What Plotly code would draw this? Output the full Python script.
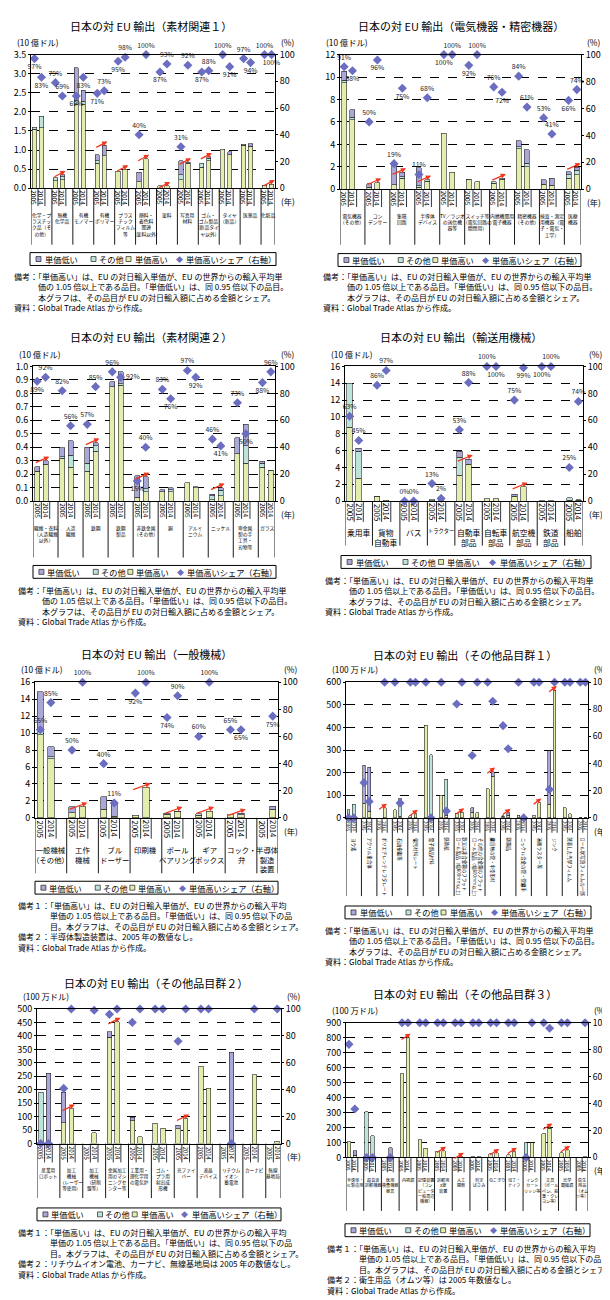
import plotly.graph_objects as go

W, H = 610, 1300
FONT = 'Noto Sans CJK JP, Noto Sans, sans-serif'
C_LOW = '#aaa7d9'
C_OTH = '#bde4da'
C_HIGH = '#e2edae'
C_DIA = '#6b6ec0'
C_ARROW = '#f2361c'

# ---------------- DATA ----------------
# Panel 1 素材関連1 (10億ドル)
p1_cats = ['化学・プ<br>ラスチッ<br>ク品（そ<br>の他）', '無機<br>化学品', '有機<br>モノマー', '有機<br>ポリマー', 'プラス<br>チック<br>フィルム<br>等',
           '顔料・<br>着色料<br>関連<br>(塗料以外)', '塗料', '写真用<br>材料', 'ゴム・<br>ゴム製品<br>(新品タイ<br>ヤ以外)', 'タイヤ<br>（新品）', '医薬品', '化粧品']
p1_high_2005 = [1.55, 0.20, 2.20, 0.65, 0.45, 0.17, 0.06, 0.22, 0.55, 1.02, 1.13, 0.08]
p1_other_2005 = [0.05, 0.08, 0.10, 0.07, 0, 0, 0, 0.13, 0.10, 0, 0.02, 0]
p1_low_2005 = [0, 0, 0.85, 0.16, 0, 0.25, 0, 0.37, 0, 0, 0, 0]
p1_high_2014 = [1.58, 0.22, 2.20, 0.85, 0.50, 0.77, 0.06, 0.65, 0.72, 0.88, 1.10, 0.11]
p1_other_2014 = [0.30, 0.08, 0.08, 0, 0, 0, 0, 0.03, 0.06, 0, 0, 0]
p1_low_2014 = [0, 0.05, 0.29, 0.27, 0, 0, 0, 0, 0.04, 0.07, 0.07, 0]
p1_share_2005 = [97, 79, 69, 71, 95, 40, 87, 31, 87, 100, 97, 100]
p1_share_2014 = [83, 69, 83, 73, 98, 100, 93, 92, 88, 91, 94, 100]
p1_arrow = [0, 1, 0, 1, 1, 1, 1, 1, 1, 0, 0, 1]

# Panel 2 電気機器・精密機器 (10億ドル)
p2_cats = ['電気機器<br>（その他）', 'コン<br>デンサー', '集積<br>回路', '半導体<br>デバイス', 'TV／ラジオ<br>の送信機<br>器等',
           'スイッチ等<br>（電気回路の<br>開閉用）', '内燃機関用<br>電子機器', '精密機器<br>（その他）', '検査・測定<br>用機器（電<br>子・電気・<br>工学）', '医療<br>機器']
p2_high_2005 = [9.5, 0.2, 0.4, 0.2, 5.0, 0.85, 0.55, 3.6, 0.45, 1.0]
p2_other_2005 = [0.2, 0, 0, 0.1, 0, 0.05, 0.1, 0.2, 0, 0.3]
p2_low_2005 = [0.8, 0.3, 1.8, 1.6, 0, 0, 0, 0.5, 0.4, 0.25]
p2_high_2014 = [6.2, 0.6, 1.0, 0.7, 1.5, 0.65, 0.9, 2.0, 0.35, 1.3]
p2_other_2014 = [0.2, 0, 0.1, 0.15, 0, 0, 0.1, 0.3, 0, 0.4]
p2_low_2014 = [0.7, 0, 0.4, 0, 0, 0, 0, 1.2, 0.65, 0.25]
p2_share_2005 = [91, 50, 19, 11, 100, 92, 76, 84, 53, 66]
p2_share_2014 = [88, 96, 75, 68, 100, 100, 72, 61, 41, 74]
p2_arrow = [0, 1, 1, 1, 0, 0, 1, 0, 0, 1]

# Panel 3 素材関連2 (10億ドル)
p3_cats = ['繊維・衣料<br>（人造繊維<br>以外）', '人造<br>繊維', '鉄鋼', '鉄鋼<br>製品', '非鉄金属<br>（その他）', '銅', 'アルミ<br>ニウム', 'ニッケル',
           '卑金属<br>製の手<br>工具・<br>刃物等', 'ガラス']
p3_high_2005 = [0.22, 0.32, 0.22, 0.85, 0.03, 0.07, 0.135, 0.01, 0.35, 0.25]
p3_other_2005 = [0, 0.01, 0.06, 0, 0, 0, 0, 0.03, 0, 0.03]
p3_low_2005 = [0.035, 0.065, 0.12, 0.035, 0.16, 0.015, 0, 0.01, 0.12, 0.015]
p3_high_2014 = [0.275, 0.25, 0.37, 0.86, 0.07, 0.07, 0.10, 0.04, 0.28, 0.225]
p3_other_2014 = [0, 0.09, 0.04, 0.01, 0.02, 0.015, 0.005, 0.04, 0.13, 0.005]
p3_low_2014 = [0.025, 0.11, 0.025, 0.09, 0.09, 0.015, 0, 0.02, 0.16, 0]
p3_share_2005 = [89, 82, 57, 96, 15, 83, 97, 46, 73, 88]
p3_share_2014 = [92, 56, 85, 92, 40, 76, 92, 41, 50, 96]
p3_arrow = [1, 0, 1, 0, 1, 0, 0, 1, 0, 0]

# Panel 4 輸送用機械 (10億ドル)
p4_cats = ['乗用車', '貨物<br>自動車', 'バス', 'トラクター', '自動車<br>部品', '自転車<br>部品', '航空機<br>部品', '鉄道<br>部品', '船舶']
p4_high_2005 = [8.8, 0.52, 0, 0.02, 3.1, 0.3, 0.55, 0.05, 0.1]
p4_other_2005 = [5.2, 0.08, 0, 0.13, 2.1, 0, 0, 0, 0.3]
p4_low_2005 = [0, 0, 0, 0, 0.7, 0, 0.25, 0, 0]
p4_high_2014 = [2.7, 0.08, 0, 0, 4.4, 0.3, 1.7, 0.05, 0.11]
p4_other_2014 = [3.2, 0, 0, 0.05, 0, 0, 0, 0, 0.04]
p4_low_2014 = [0.4, 0, 0, 0, 0.6, 0, 0, 0, 0]
p4_share_2005 = [63, 86, 0, 13, 53, 100, 75, 100, 25]
p4_share_2014 = [45, 97, 0, 2, 88, 100, 99, 100, 74]
p4_arrow = [0, 0, 0, 0, 1, 0, 1, 0, 0]

# Panel 5 一般機械 (10億ドル)
p5_cats = ['一般機械<br>（その他）', '工作<br>機械', 'ブル<br>ドーザー', '印刷機', 'ボール<br>ベアリング', 'ギア<br>ボックス', 'コック・<br>弁', '半導体<br>製造<br>装置']
p5_high_2005 = [9.8, 0.6, 1.0, 0.3, 0.45, 0.3, 0.4, None]
p5_other_2005 = [0.7, 0, 0, 0, 0.1, 0.2, 0, None]
p5_low_2005 = [4.4, 0.7, 1.5, 0, 0, 0, 0, None]
p5_high_2014 = [7.0, 1.3, 0.2, 3.6, 0.7, 0.8, 0.35, 1.0]
p5_other_2014 = [0.2, 0, 0, 0, 0.1, 0, 0, 0]
p5_low_2014 = [1.2, 0, 1.6, 0, 0, 0, 0.2, 0.4]
p5_share_2005 = [65, 50, 40, 92, 74, 60, 65, None]
p5_share_2014 = [85, 100, 11, 100, 90, 100, 65, 75]
p5_arrow = [0, 1, 0, 1, 1, 1, 1, 0]

# Panel 6 その他品目群1 (100万ドル)
p6_cats = ['ヨウ素', 'アクリル重合体', 'ポリエチレンテレフタレート', '石油樹脂等', '偏光材料シート', '電子部品材料', '感熱紙',
           '鉄又は非合金鋼のフラット<br>ロール製品（幅600mm以上）', 'その他の合金鋼のフラット<br>ロール製品（幅600mm以上）',
           '継目無の管・中空形材', '鋳鋼品', 'ニッケル合金の管・管継手', '溶接ラスター等', 'ジンク', '蒸着した光学フィルム', 'ロール状写真フィルムの一部']
p6_high_2005 = [0, 65, 0, 35, 10, 410, 100, 20, 25, 128, 7, 12, 12, 60, 45, 1]
p6_other_2005 = [35, 0, 0, 0, 0, 0, 0, 0, 0, 0, 3, 0, 0, 0, 0, 0]
p6_low_2005 = [0, 168, 0, 0, 0, 0, 0, 0, 20, 0, 0, 0, 0, 238, 0, 0]
p6_high_2014 = [0, 30, 45, 8, 18, 0, 12, 25, 22, 185, 11, 0, 68, 565, 18, 1]
p6_other_2014 = [60, 0, 0, 80, 0, 280, 160, 0, 0, 0, 0, 0, 0, 0, 0, 0]
p6_low_2014 = [0, 195, 0, 0, 0, 0, 0, 0, 0, 20, 11, 0, 0, 0, 0, 0]
p6_share_2005 = [0, 26, None, 100, 100, 100, 100, 84, 46, 100, 68, 100, 100, 21, 100, 100]
p6_share_2014 = [0, 12, 100, 11, 100, 0, 5, 100, 100, 86, 51, 0, 100, 100, 100, 100]
p6_arrow = [0, 0, 1, 0, 1, 0, 0, 1, 0, 1, 1, 0, 1, 1, 0, 0]

# Panel 7 その他品目群2 (100万ドル)
p7_cats = ['産業用<br>ロボット', '加工<br>機械<br>（レーザー<br>等使用）', '加工<br>機械<br>（研削<br>盤等）', '金属加工<br>用のマシ<br>ニングセ<br>ンター等',
           '工業用・<br>理化学用<br>の電気炉', 'ゴム・<br>プラ用<br>射出成<br>形機', '光ファイ<br>バー', '液晶<br>デバイス', 'リチウム<br>イオン<br>蓄電池', 'カーナビ', '無線<br>基地局']
p7_high_2005 = [0, 78, None, 395, 85, 75, 55, 288, None, None, None]
p7_other_2005 = [190, 0, None, 0, 0, 0, 0, 0, None, None, None]
p7_low_2005 = [0, 112, None, 20, 13, 0, 13, 0, None, None, None]
p7_high_2014 = [0, 130, 40, 452, 25, 57, 93, 205, 0, 255, 8]
p7_other_2014 = [0, 0, 0, 0, 0, 0, 0, 0, 0, 0, 0]
p7_low_2014 = [262, 0, 0, 0, 0, 0, 0, 0, 340, 0, 0]
p7_share_2005 = [0, 41, None, 96, 90, 100, 76, 100, None, None, None]
p7_share_2014 = [0, 100, 99, 100, 100, 100, 100, 100, 0, 100, 100]
p7_arrow = [0, 1, 0, 1, 0, 0, 1, 0, 0, 0, 0]

# Panel 8 その他品目群3 (100万ドル)
p8_cats = ['半導体・<br>IC製造用', '超音波<br>診断機器', '医用<br>検査機器<br>器具', '内視鏡', '記憶装置<br>（コン<br>ピュータ<br>一般周辺<br>機器）', '診断用<br>X線<br>装置',
           '人工<br>関節', '剪定<br>ばさみ', 'のこぎり', '包丁・<br>ナイフ', 'インク<br>カート<br>リッジ等', '文具<br>（ボール<br>ペン、鉛<br>筆・クレ<br>ヨン等）', '光学<br>顕微鏡', '衛生<br>用品<br>（オム<br>ツ等）']
p8_high_2005 = [105, 0, None, 560, 120, 40, 1, 5, 25, 18, 0, 160, 30, None]
p8_other_2005 = [0, 305, None, 0, 0, 0, 0, 0, 0, 0, 100, 0, 0, None]
p8_low_2005 = [0, 0, None, 0, 0, 0, 0, 0, 0, 0, 0, 0, 0, None]
p8_high_2014 = [16, 0, 0, 800, 60, 45, 5, 5, 30, 38, 100, 195, 50, 5]
p8_other_2014 = [0, 145, 0, 0, 0, 0, 0, 0, 0, 0, 0, 0, 0, 0]
p8_low_2014 = [29, 0, 65, 0, 0, 0, 0, 0, 0, 0, 0, 5, 0, 0]
p8_share_2005 = [84, 0, None, 100, 100, 100, 100, 100, 100, 100, 0, 100, 100, None]
p8_share_2014 = [36, 0, 0, 100, 100, 100, 100, 100, 100, 100, 100, 96, 100, 100]
p8_arrow = [0, 0, 0, 1, 0, 1, 1, 0, 1, 1, 0, 1, 1, 0]

years = ['2005', '2014']
legend_names = ['単価低い', 'その他', '単価高い', '単価高いシェア（右軸）']

DATA = []
for pre in ['p1', 'p2', 'p3', 'p4', 'p5', 'p6', 'p7', 'p8']:
    g = globals()
    DATA.append(dict(cats=g[pre + '_cats'],
                     h05=g[pre + '_high_2005'], o05=g[pre + '_other_2005'], l05=g[pre + '_low_2005'],
                     h14=g[pre + '_high_2014'], o14=g[pre + '_other_2014'], l14=g[pre + '_low_2014'],
                     s05=g[pre + '_share_2005'], s14=g[pre + '_share_2014'], arrow=g[pre + '_arrow']))

NOTE_STD = ('備考：「単価高い」は、EU の対日輸入単価が、EU の世界からの輸入平均単<br>'
            '　　　価の 1.05 倍以上である品目。「単価低い」は、同 0.95 倍以下の品目。<br>'
            '　　　本グラフは、その品目が EU の対日輸入額に占める金額とシェア。<br>'
            '資料：Global Trade Atlas から作成。')
NOTE_HEAD = ('備考１：「単価高い」は、EU の対日輸入単価が、EU の世界からの輸入平均<br>'
             '　　　　単価の 1.05 倍以上である品目。「単価低い」は、同 0.95 倍以下の品<br>'
             '　　　　目。本グラフは、その品目が EU の対日輸入額に占める金額とシェア。<br>')
NOTE5 = NOTE_HEAD + '備考２：半導体製造装置は、2005 年の数値なし。<br>資料：Global Trade Atlas から作成。'
NOTE7 = NOTE_HEAD + '備考２：リチウムイオン電池、カーナビ、無線基地局は 2005 年の数値なし。<br>資料：Global Trade Atlas から作成。'
NOTE8 = NOTE_HEAD + '備考２：衛生用品（オムツ等）は 2005 年数値なし。<br>資料：Global Trade Atlas から作成。'

U1 = '(10 億ドル)'
U2 = '(100 万ドル)'
# ---------------- GEOMETRY / STYLE ----------------
# lp: label position per point (u=above, d=below, r=right)
GEOM = [
    dict(title='日本の対 EU 輸出（素材関連１）', tx=143, ty=11, L=23, R=267, T=40, B=175, LB=232, ymax=3.5, dtick=0.5, fmt='.1f',
         unit=U1, leg=(22, 240, 246), note=(4, 257), ntext=NOTE_STD, cf=4.8, yf=6.5, yz=18, rot=False, bw=0.62, rf=9,
         lp='dd uu dd du du uu du uu du ud ud ud', cfo={}),
    dict(title='日本の対 EU 輸出（電気機器・精密機器）', tx=453, ty=11, L=332, R=573, T=40, B=176, LB=232, ymax=12, dtick=2, fmt='',
         unit=U1, leg=(330, 241, 243), note=(313, 257), ntext=NOTE_STD, cf=4.8, yf=6.5, yz=18, rot=False, bw=0.6, rf=9,
         lp='ud ud ud uu du du ud uu uu du', cfo={}),
    dict(title='日本の対 EU 輸出（素材関連２）', tx=143, ty=325, L=25, R=267, T=355, B=491, LB=548, ymax=1.0, dtick=0.1, fmt='.1f',
         unit=U1, leg=(25, 556, 243), note=(8, 574), ntext=NOTE_STD, cf=4.8, yf=6.5, yz=18, rot=False, bw=0.6, rf=9,
         lp='du uu uu ur du ud ud ud ud du', cfo={}),
    dict(title='日本の対 EU 輸出（輸送用機械）', tx=453, ty=325, L=337, R=575, T=355, B=491, LB=536, ymax=16, dtick=2, fmt='',
         unit=U1, leg=(333, 546, 250), note=(315, 564), ntext=NOTE_STD, cf=7.8, yf=7.8, yz=21, rot=False, bw=0.6, rf=9,
         lp='uu uu uu uu uu ud ud du uu', cfo={3: 5.3}),
    dict(title='日本の対 EU 輸出（一般機械）', tx=148, ty=645, L=27, R=270, T=674, B=811, LB=867, ymax=16, dtick=2, fmt='',
         unit=U1, leg=(27, 875, 243), note=(8, 892), ntext=NOTE5, cf=7.4, yf=7.8, yz=21, rot=False, bw=0.6, rf=9,
         lp='uu uu uu du du uu ud ud', cfo={}),
    dict(title='日本の対 EU 輸出（その他品目群１）', tx=457, ty=646, L=338, R=580, T=674, B=811, LB=890, ymax=600, dtick=100, fmt='',
         unit=U2, leg=(337, 900, 246), note=(315, 917), ntext=NOTE_STD, cf=4.5, yf=4.4, yz=15, rot=True, bw=0.55, rf=8.5,
         lp=None, cfo={}),
    dict(title='日本の対 EU 輸出（その他品目群２）', tx=148, ty=978, L=29, R=273, T=1004, B=1140, LB=1195, ymax=500, dtick=50, fmt='',
         unit=U2, leg=(29, 1205, 244), note=(8, 1222), ntext=NOTE7, cf=4.6, yf=5.8, yz=19, rot=False, bw=0.6, rf=9,
         lp=None, cfo={}),
    dict(title='日本の対 EU 輸出（その他品目群３）', tx=457, ty=989, L=338, R=580, T=1018, B=1154, LB=1208, ymax=900, dtick=100, fmt='',
         unit=U2, leg=(337, 1221, 245), note=(317, 1238), ntext=NOTE8, cf=4.1, yf=5.0, yz=15, rot=False, bw=0.6, rf=8.5,
         lp=None, cfo={}),
]
POSMAP = {'u': 'top center', 'd': 'bottom center', 'r': 'middle right', 'l': 'middle left'}


def xp(px):
    return px / W


def yp(py):
    return 1 - py / H


def inter(a, b, zero_none=True):
    out = []
    for u, v in zip(a, b):
        out += [u, v]
    if zero_none:
        out = [None if (v is None or v == 0) else v for v in out]
    return out


def nz(v):
    return 0 if v is None else v


def txt_anno(text, x, y, xref='paper', yref='paper', xanchor='center', yanchor='middle', size=8.5, **kw):
    a = dict(text=text, x=x, y=y, xref=xref, yref=yref, xanchor=xanchor, yanchor=yanchor, showarrow=False,
             font=dict(size=size, family=FONT, color=kw.pop('color', 'black')))
    a.update(kw)
    return a


fig = go.Figure()
shapes = []
annos = []
layout = {}

for k, (d, g) in enumerate(zip(DATA, GEOM), start=1):
    n = len(d['cats'])
    xa = 'x' if k == 1 else f'x{k}'
    yli = 2 * k - 1
    yri = 2 * k
    yl = 'y' if yli == 1 else f'y{yli}'
    yr = f'y{yri}'
    xs = []
    for i in range(n):
        xs += [3 * i + 0.5, 3 * i + 1.5]

    for name, key, col in [('単価高い', 'h', C_HIGH), ('その他', 'o', C_OTH), ('単価低い', 'l', C_LOW)]:
        fig.add_trace(go.Bar(x=xs, y=inter(d[key + '05'], d[key + '14']), xaxis=xa, yaxis=yl, width=g['bw'],
                             marker=dict(color=col, line=dict(color='#222222', width=0.6)),
                             name=name, showlegend=False))
    sh = inter(d['s05'], d['s14'], zero_none=False)
    if g['lp']:
        lp = g['lp'].replace(' ', '')
        tpos = [POSMAP[c] for c in lp]
        txt = ['' if v is None else f'{v}%' for v in sh]
        mode = 'markers+text'
    else:
        tpos = 'top center'
        txt = None
        mode = 'markers'
    fig.add_trace(go.Scatter(x=xs, y=sh, xaxis=xa, yaxis=yr, mode=mode, text=txt, textposition=tpos,
                             textfont=dict(size=6.8, color='#222', family=FONT),
                             marker=dict(symbol='diamond', size=7, color=C_DIA), cliponaxis=False,
                             name='単価高いシェア（右軸）', showlegend=False))

    L, R, T, B = g['L'], g['R'], g['T'], g['B']
    layout['xaxis' if k == 1 else f'xaxis{k}'] = dict(
        domain=[xp(L), xp(R)], range=[0, 3 * n - 1], anchor=yl, showline=True, mirror=True,
        linecolor='black', linewidth=1, showticklabels=False, ticks='', showgrid=False, zeroline=False)
    layout['yaxis' if yli == 1 else f'yaxis{yli}'] = dict(
        domain=[yp(B), yp(T)], range=[0, g['ymax']], dtick=g['dtick'], tickformat=g['fmt'], anchor=xa,
        showline=True, linecolor='black', linewidth=1, ticks='outside', ticklen=2, tickcolor='black',
        showgrid=True, gridcolor='black', griddash='dash', gridwidth=0.9, zeroline=False,
        tickfont=dict(size=9, family=FONT, color='black'))
    layout[f'yaxis{yri}'] = dict(
        domain=[yp(B), yp(T)], range=[0, 100], dtick=20, anchor=xa, overlaying=yl, side='right',
        showline=True, linecolor='black', linewidth=1, ticks='outside', ticklen=2, tickcolor='black',
        showgrid=False, zeroline=False, tickfont=dict(size=g['rf'], family=FONT, color='black'))

    # title & units
    annos.append(txt_anno(g['title'], xp(g['tx']), yp(g['ty']), size=11))
    annos.append(txt_anno(g['unit'], xp(L - 16), yp(T - 13), xanchor='left', size=8.3))
    annos.append(txt_anno('(%)', xp(R + 4), yp(T - 13), xanchor='left', size=8.3))
    annos.append(txt_anno('(年)', xp(R + 4), yp(B + 13), xanchor='left', size=8.3))

    # year labels, separators, category labels
    yz = g['yz']
    for i in range(n):
        for j, yr_txt in enumerate(years):
            annos.append(txt_anno(yr_txt, 3 * i + 0.5 + j, yp(B + yz / 2 + 0.5), xref=xa, size=g['yf'], textangle=90))
        for off in (1, 2):
            if 3 * i + off < 3 * n - 1:
                shapes.append(dict(type='line', xref=xa, yref='paper', x0=3 * i + off, x1=3 * i + off,
                                   y0=yp(B), y1=yp(B + yz), line=dict(color='black', width=0.8)))
        last = (i == n - 1)
        cx = 3 * i + (1.0 if last else 1.5)
        fs = g['cfo'].get(i, g['cf'])
        if g['rot']:
            annos.append(txt_anno(d['cats'][i], cx, yp(B + yz + 3), xref=xa, yanchor='top', size=fs,
                                  textangle=90, align='left'))
        else:
            annos.append(txt_anno(d['cats'][i], cx, yp(B + yz + 3), xref=xa, yanchor='top', size=fs,
                                  align='center'))
    for i in range(n + 1):
        xx = 3 * i if i < n else 3 * n - 1
        shapes.append(dict(type='line', xref=xa, yref='paper', x0=xx, x1=xx, y0=yp(B), y1=yp(g['LB']),
                           line=dict(color='black', width=0.9)))

    # red arrows
    ym = g['ymax']
    for i in range(n):
        if d['arrow'][i]:
            t14 = nz(d['h14'][i]) + nz(d['o14'][i]) + nz(d['l14'][i])
            hy = t14 + 0.03 * ym
            annos.append(dict(text='', x=3 * i + 1.95, y=hy, ax=3 * i + 0.15, ay=hy - 0.05 * ym,
                              xref=xa, yref=yl, axref=xa, ayref=yl, showarrow=True, arrowhead=2,
                              arrowsize=0.8, arrowwidth=1.3, arrowcolor=C_ARROW, standoff=0, startstandoff=0))

    # manual legend
    lx, ly, lw = g['leg']
    sc = lw / 246.0
    shapes.append(dict(type='rect', xref='paper', yref='paper', x0=xp(lx), x1=xp(lx + lw), y0=yp(ly + 13), y1=yp(ly),
                       line=dict(color='black', width=1), fillcolor='white', layer='below'))
    items = [(6, C_LOW), (61, C_OTH), (96, C_HIGH)]
    tx_off = [12.5, 67, 102.5, 154]
    for (off, col) in items:
        x0 = lx + off * sc
        shapes.append(dict(type='rect', xref='paper', yref='paper', x0=xp(x0), x1=xp(x0 + 5), y0=yp(ly + 9), y1=yp(ly + 4),
                           line=dict(color='#222', width=0.7), fillcolor=col))
    annos.append(txt_anno('◆', xp(lx + 149 * sc), yp(ly + 6.5), size=7, color=C_DIA))
    for t, off in zip(legend_names, tx_off):
        annos.append(txt_anno(t, xp(lx + off * sc), yp(ly + 6.5), xanchor='left', size=8.2))

    # notes
    nx, ny = g['note']
    annos.append(txt_anno(g['ntext'], xp(nx), yp(ny), xanchor='left', yanchor='top', size=8, align='left'))

fig.update_layout(**layout)
fig.update_layout(width=W, height=H, autosize=False, margin=dict(l=0, r=0, t=0, b=0),
                  paper_bgcolor='white', plot_bgcolor='white', barmode='stack', showlegend=False,
                  shapes=shapes, annotations=annos, font=dict(family=FONT, color='black'))
fig.write_html('out.html')
